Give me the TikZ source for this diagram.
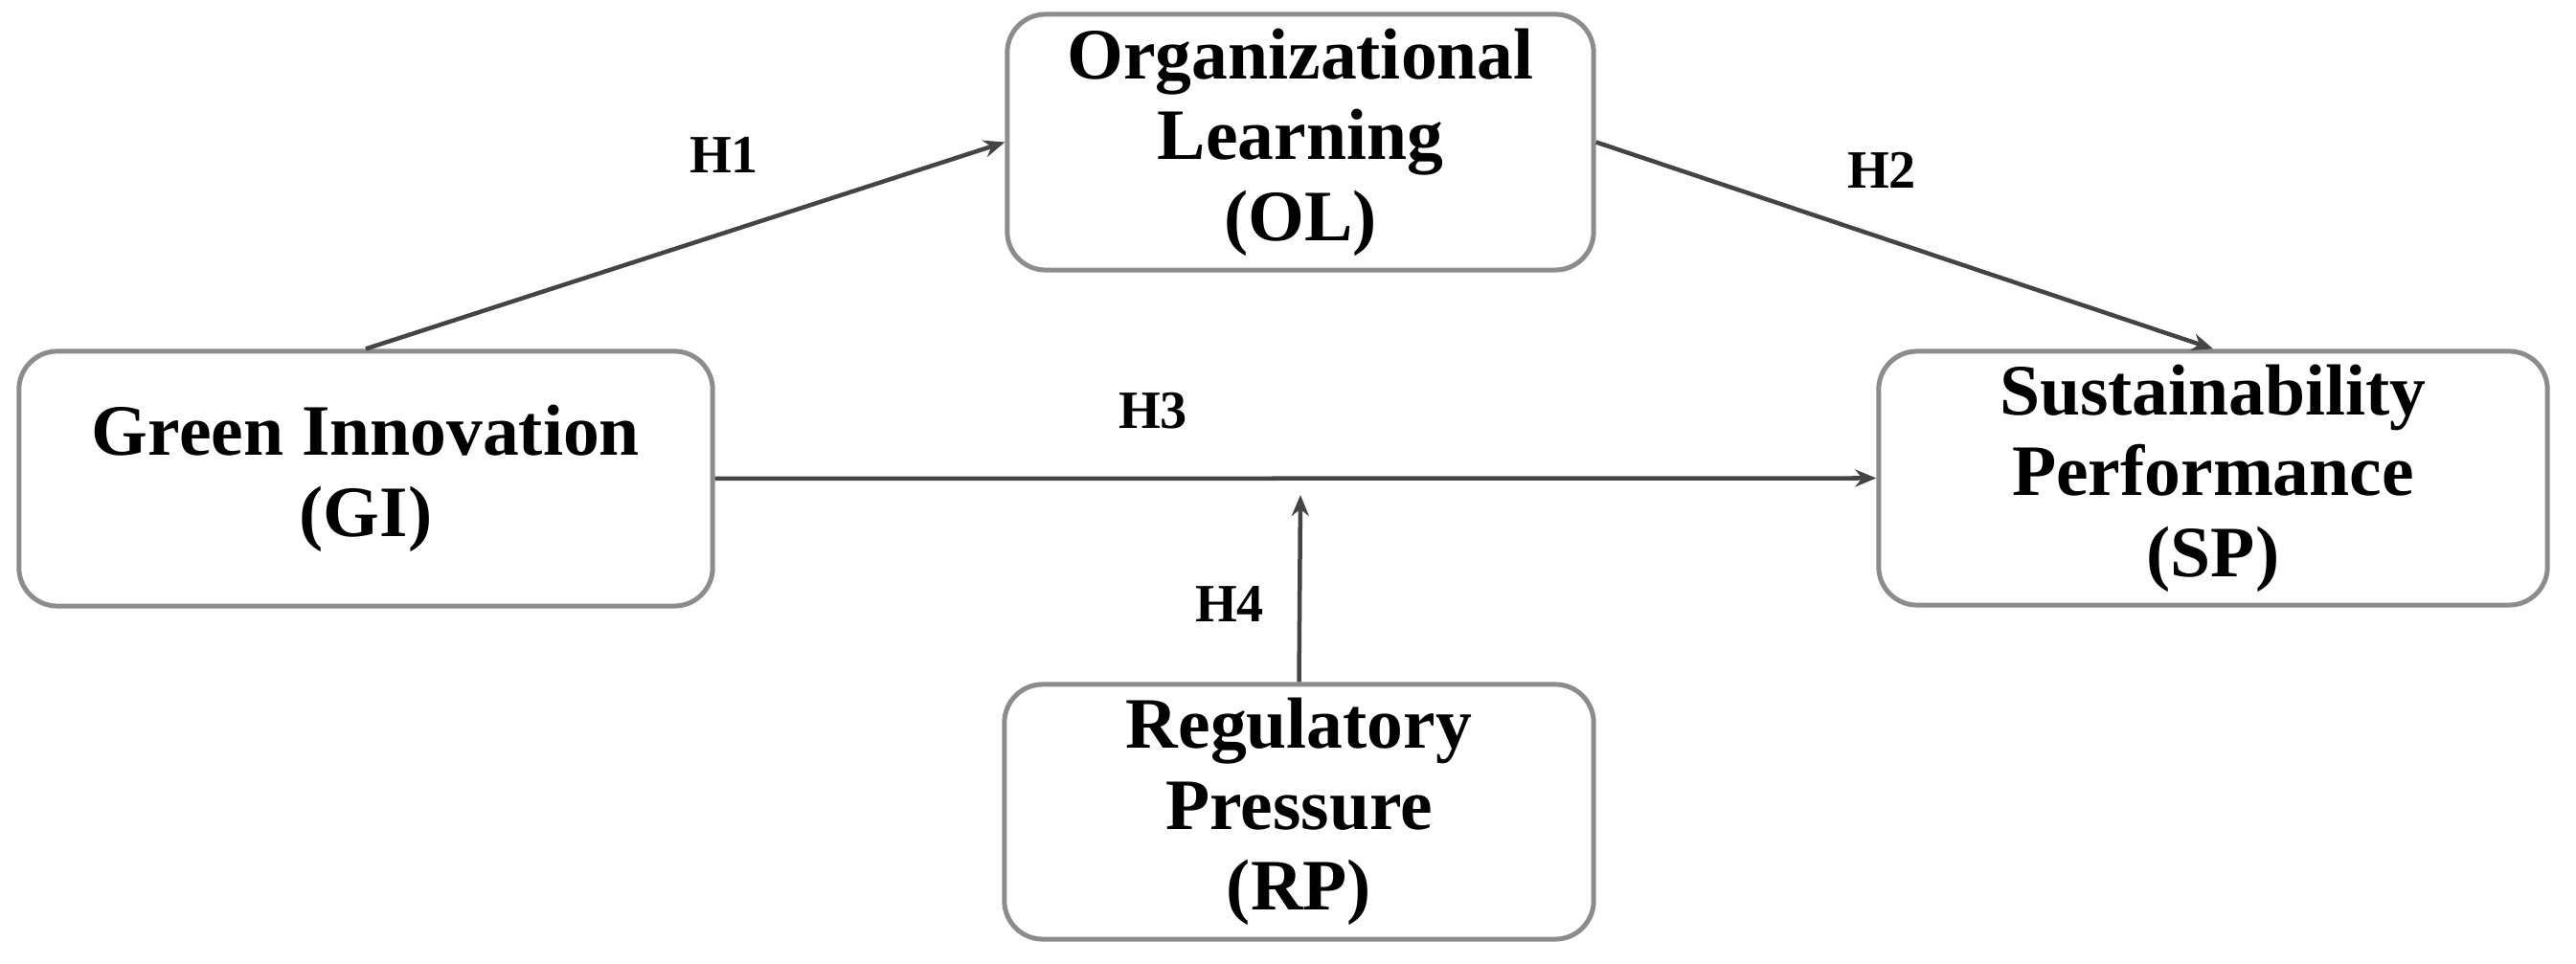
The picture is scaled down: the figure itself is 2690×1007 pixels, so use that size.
\documentclass[tikz,border=0pt]{standalone}
\usepackage{fontspec}
\setmainfont{Liberation Serif}
\usetikzlibrary{arrows.meta}
\definecolor{boxline}{HTML}{8C8C8C}
\definecolor{arrline}{HTML}{444444}
\begin{document}
\begin{tikzpicture}[x=0.01cm,y=-0.01cm,
  construct/.style={draw=boxline, line width=0.5mm, rounded corners=4mm, align=center,
    font=\fontsize{21.5}{24}\selectfont\bfseries, inner sep=0pt},
  link/.style={draw=arrline, line width=0.45mm, -{Stealth[length=2.2mm,width=1.8mm]}},
  hlabel/.style={font=\fontsize{16}{18}\selectfont\bfseries, inner sep=0pt}]
\useasboundingbox (0,0) rectangle (2690,1007);
\node[construct, minimum width=7.24cm, minimum height=2.66cm] (GI) at (382,500) {Green Innovation\\(GI)};
\node[construct, minimum width=6.12cm, minimum height=2.67cm] (OL) at (1358,148.5) {Organizational\\Learning\\(OL)};
\node[construct, minimum width=6.98cm, minimum height=2.65cm] (SP) at (2311,499.5) {Sustainability\\Performance\\(SP)};
\node[construct, minimum width=6.15cm, minimum height=2.66cm] (RP) at (1356.5,848) {Regulatory\\Pressure\\(RP)};
\coordinate (mod) at (1358,517);
\draw[link] (GI.north) -- (OL.west);
\draw[link] (OL.east) -- (SP.north);
\draw[link] (GI.east) -- (SP.west);
\draw[link] (RP.north) -- (mod);
\node[hlabel] (h1) at (756,162) {H1};
\node[hlabel] (h2) at (1965,178) {H2};
\node[hlabel] (h3) at (1204,429) {H3};
\node[hlabel] (h4) at (1284,631) {H4};
\end{tikzpicture}
\end{document}
